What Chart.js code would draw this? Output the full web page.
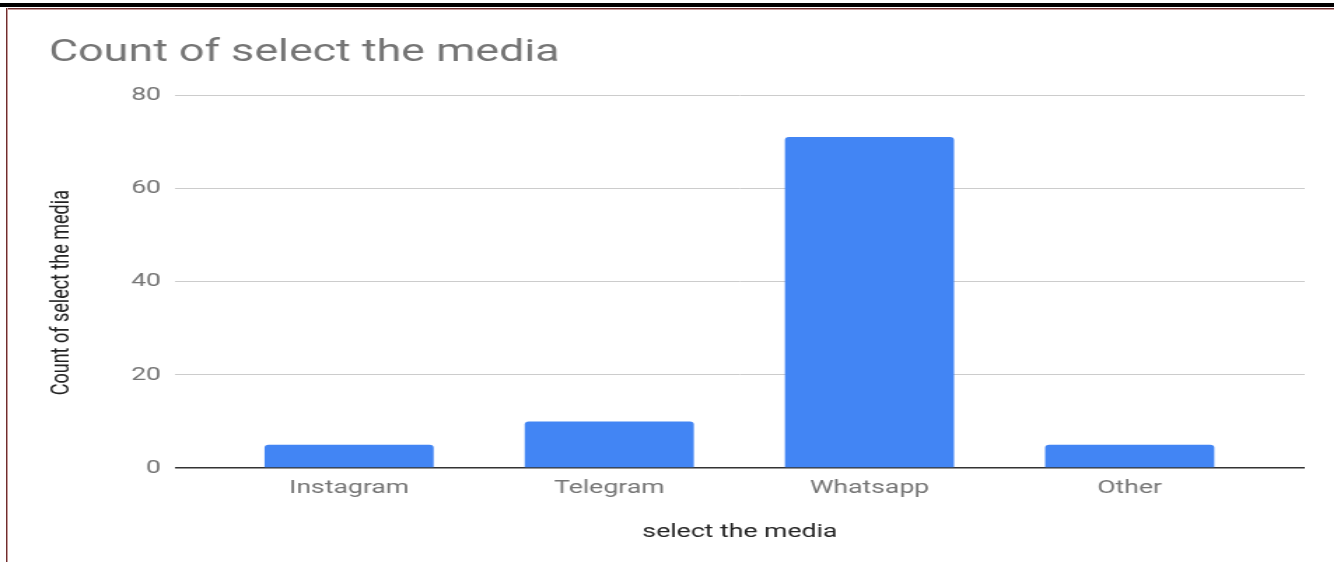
<!DOCTYPE html>
<html>
<head>
<meta charset="utf-8">
<script src="https://cdn.jsdelivr.net/npm/chart.js@4/dist/chart.umd.min.js"></script>
<style>
  html, body { margin: 0; padding: 0; background: #fff; width: 1334px; height: 562px; overflow: hidden; }
  #stage { position: absolute; left: 0; top: 0; width: 953px; height: 562px; transform: scaleX(1.4); transform-origin: 0 0; }
  #topBlack { position: absolute; left: 0; top: 3px; width: 1334px; height: 4px; background: #000; }
  #topBrown { position: absolute; left: 6px; top: 8px; width: 1328px; height: 1px; background: #6e2e2e; border-bottom: 1px solid #c79a9a; }
  #leftBrown { position: absolute; left: 6px; top: 8px; width: 1px; height: 560px; background: #6e2e2e; border-right: 1px solid #c79a9a; }
</style>
</head>
<body>
<div id="stage"><canvas id="c" width="953" height="562"></canvas></div>
<div id="topBlack"></div>
<div id="topBrown"></div>
<div id="leftBrown"></div>
<script>
const chartTitle = "Count of select the media";
const xAxisTitle = "select the media";
const yAxisTitle = "Count of select the media";
const categories = ["Instagram", "Telegram", "Whatsapp", "Other"];
const counts = [5, 10, 71, 5];
const yTicks = [0, 20, 40, 60, 80];

const points = categories.map((c, i) => ({ x: i, y: counts[i] }));

new Chart(document.getElementById('c'), {
  type: 'bar',
  data: {
    datasets: [{
      label: yAxisTitle,
      data: points,
      backgroundColor: '#4285F4',
      borderRadius: { topLeft: 3, topRight: 3, bottomLeft: 0, bottomRight: 0 },
      borderSkipped: 'bottom',
      barPercentage: 0.65,
      categoryPercentage: 1
    }]
  },
  options: {
    responsive: false,
    animation: false,
    devicePixelRatio: 1,
    layout: { padding: { left: 35, right: 21, top: 10, bottom: 10 } },
    plugins: {
      legend: { display: false },
      tooltip: { enabled: false },
      title: {
        display: true,
        text: chartTitle,
        align: 'start',
        color: '#757575',
        font: { family: 'Roboto', size: 32, weight: 'normal', lineHeight: 1.2 },
        padding: { top: 24, bottom: 22.6 }
      }
    },
    scales: {
      x: {
        type: 'linear',
        min: -0.669,
        max: 3.673,
        offset: false,
        grid: { display: false, drawTicks: false },
        border: { display: false },
        afterBuildTicks: (scale) => { scale.ticks = categories.map((_, i) => ({ value: i })); },
        afterFit: (scale) => { scale.height = 84; },
        ticks: {
          autoSkip: false,
          maxRotation: 0,
          padding: 9,
          color: '#757575',
          font: { family: 'Roboto', size: 19 },
          callback: (v) => categories[v] ?? ''
        },
        title: {
          display: true,
          text: xAxisTitle,
          color: '#222222',
          font: { family: 'Roboto', size: 19, lineHeight: 1.2 },
          padding: { top: 0, bottom: 8.5 }
        }
      },
      y: {
        min: 0,
        max: 80,
        afterBuildTicks: (scale) => { scale.ticks = yTicks.map(v => ({ value: v })); },
        afterFit: (scale) => { scale.width = 90; },
        grid: {
          drawTicks: false,
          color: (ctx) => ctx.tick && ctx.tick.value === 0 ? '#333333' : '#cccccc',
          lineWidth: (ctx) => ctx.tick && ctx.tick.value === 0 ? 1.5 : 1
        },
        border: { display: false },
        ticks: {
          padding: 10,
          color: '#757575',
          font: { family: 'Roboto', size: 19 }
        },
        title: {
          display: true,
          text: yAxisTitle + "     ",
          color: '#222222',
          font: { family: 'Roboto', size: 18, lineHeight: 1 },
          padding: { top: 0, bottom: 0 }
        }
      }
    }
  }
});
</script>
</body>
</html>
